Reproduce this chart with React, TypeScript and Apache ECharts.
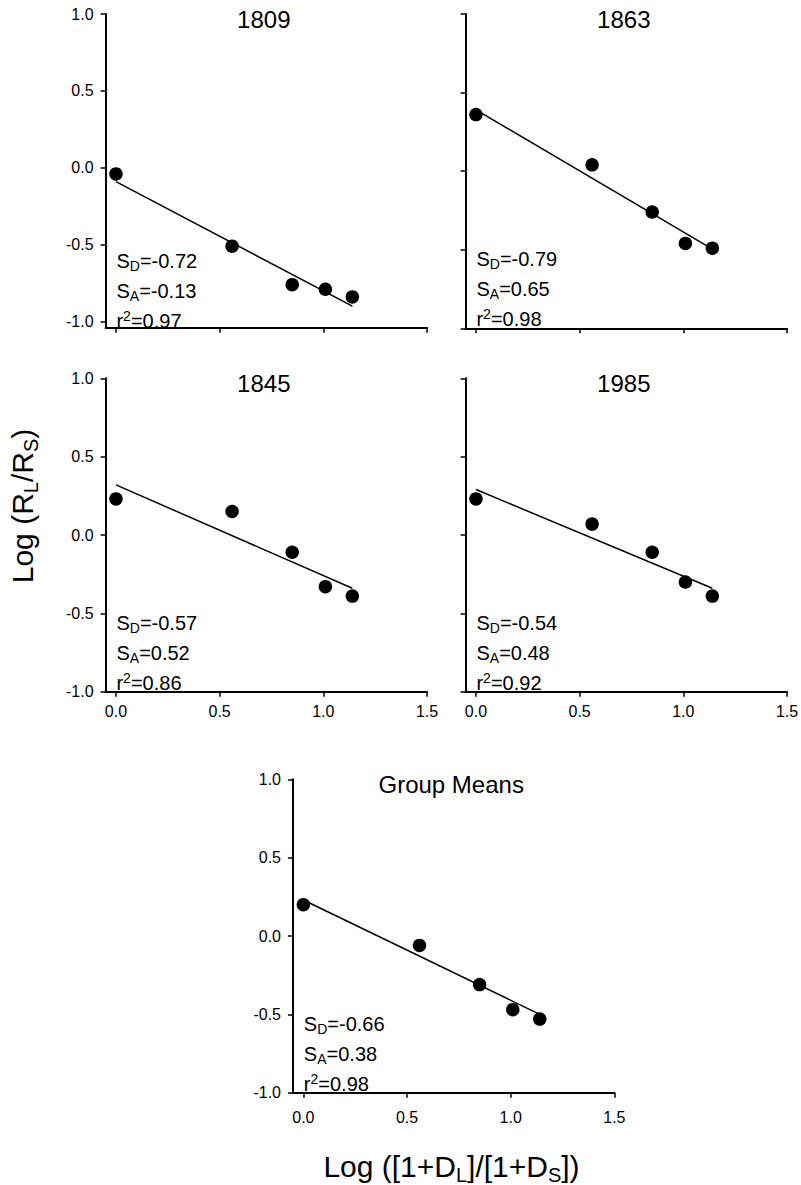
import React, { useEffect, useRef } from 'react';
import * as echarts from 'echarts';

// ---- data ----
const xValues = [0, 0.56, 0.85, 1.01, 1.14];
const y1809 = [-0.04, -0.51, -0.76, -0.79, -0.84];
const y1863 = [0.36, 0.04, -0.26, -0.46, -0.49];
const y1845 = [0.23, 0.15, -0.11, -0.33, -0.39];
const y1985 = [0.23, 0.07, -0.11, -0.3, -0.39];
const yMeans = [0.2, -0.06, -0.31, -0.47, -0.53];

const fit1809 = [[0, -0.09], [1.14, -0.9]];
const fit1863 = [[0, 0.39], [1.12, -0.48]];
const fit1845 = [[0, 0.32], [1.14, -0.34]];
const fit1985 = [[0, 0.29], [1.14, -0.34]];
const fitMeans = [[0, 0.23], [1.14, -0.5]];

const panelTitles = ['1809', '1863', '1845', '1985', 'Group Means'];
const slopeD = ['-0.72', '-0.79', '-0.57', '-0.54', '-0.66'];
const slopeA = ['-0.13', '0.65', '0.52', '0.48', '0.38'];
const rSquared = ['0.97', '0.98', '0.86', '0.92', '0.98'];

const xTicks = [0, 0.5, 1.0, 1.5];
const yTicks = [-1, -0.5, 0, 0.5, 1];

const seriesY = [y1809, y1863, y1845, y1985, yMeans];
const seriesFit = [fit1809, fit1863, fit1845, fit1985, fitMeans];

// ---- layout ----
const FONT = 'Liberation Sans, Arial, Helvetica, sans-serif';
const X_MIN = -0.05;
const X_MAX = 1.5;
const GRID_W = 321.4;
const panels = [
  { left: 105.6, top: 14, height: 313.7, yMin: -1.04, showX: false, showY: true, xMargin: 12, annoOff: 2 },
  { left: 465.6, top: 14, height: 314.3, yMin: -1, showX: false, showY: false, xMargin: 12, annoOff: 0 },
  { left: 105.6, top: 378.3, height: 313.4, yMin: -1, showX: true, showY: true, xMargin: 12, annoOff: 0 },
  { left: 465.6, top: 378.3, height: 313.4, yMin: -1, showX: true, showY: false, xMargin: 12, annoOff: 0 },
  { left: 293, top: 779.3, height: 313.4, yMin: -1, showX: true, showY: true, xMargin: 17, annoOff: 0 },
];

const annoRich = {
  m: { fontSize: 20, lineHeight: 24, fontFamily: FONT, fill: '#000' },
  d: { fontSize: 14, lineHeight: 16, verticalAlign: 'bottom', fontFamily: FONT, fill: '#000' },
  u: { fontSize: 14, lineHeight: 20, verticalAlign: 'top', fontFamily: FONT, fill: '#000' },
};

const titleRich = {
  m: { fontSize: 30, lineHeight: 36, fontFamily: FONT, fill: '#000' },
  d: { fontSize: 20, lineHeight: 20, verticalAlign: 'bottom', fontFamily: FONT, fill: '#000' },
};

export default function App() {
  const ref = useRef<HTMLDivElement>(null);

  useEffect(() => {
    if (!ref.current) return;
    const chart = echarts.init(ref.current, undefined, { renderer: 'svg' });

    const grids: any[] = [];
    const xAxes: any[] = [];
    const yAxes: any[] = [];
    const series: any[] = [];
    const graphics: any[] = [];

    panels.forEach((p, i) => {
      grids.push({
        left: p.left,
        top: p.top,
        width: GRID_W,
        height: p.height,
        containLabel: false,
        outerBoundsMode: 'none',
      });
      xAxes.push({
        type: 'value',
        gridIndex: i,
        min: X_MIN,
        max: X_MAX,
        axisLine: { show: true, onZero: false, lineStyle: { color: '#000', width: 2 } },
        axisTick: { show: true, length: 5, customValues: xTicks, lineStyle: { color: '#000', width: 1.5 } },
        axisLabel: {
          show: p.showX,
          customValues: xTicks,
          formatter: (v: number) => v.toFixed(1),
          fontSize: 16,
          fontFamily: FONT,
          color: '#000',
          margin: p.xMargin,
        },
        splitLine: { show: false },
      });
      yAxes.push({
        type: 'value',
        gridIndex: i,
        min: p.yMin,
        max: 1,
        axisLine: { show: true, onZero: false, lineStyle: { color: '#000', width: 2 } },
        axisTick: { show: true, length: 5, customValues: yTicks, lineStyle: { color: '#000', width: 1.5 } },
        axisLabel: {
          show: p.showY,
          customValues: yTicks,
          formatter: (v: number) => v.toFixed(1),
          fontSize: 16,
          fontFamily: FONT,
          color: '#000',
          margin: 12,
        },
        splitLine: { show: false },
      });
      series.push({
        type: 'line',
        xAxisIndex: i,
        yAxisIndex: i,
        data: seriesFit[i],
        showSymbol: false,
        symbol: 'none',
        lineStyle: { color: '#000', width: 1.5 },
        z: 2,
      });
      series.push({
        type: 'scatter',
        xAxisIndex: i,
        yAxisIndex: i,
        data: xValues.map((x, j) => [x, seriesY[i][j]]),
        symbol: 'circle',
        symbolSize: 13.5,
        itemStyle: { color: '#000', opacity: 1 },
        z: 3,
      });

      const cx = p.left + GRID_W / 2 - 2.5;
      graphics.push({
        type: 'text',
        x: cx,
        y: p.top + 5,
        style: {
          text: panelTitles[i],
          fontSize: 24,
          fontFamily: FONT,
          fill: '#000',
          align: 'center',
          verticalAlign: 'middle',
        },
      });

      const x0 = p.left + ((0 - X_MIN) / (X_MAX - X_MIN)) * GRID_W + 0.5;
      const baselines = [252, 281.5, 311.5].map((b) => p.top + b + p.annoOff);
      const lines = [
        `{m|S}{d|D}{m|=${slopeD[i]}}`,
        `{m|S}{d|A}{m|=${slopeA[i]}}`,
        `{m|r}{u|2}{m|=${rSquared[i]}}`,
      ];
      lines.forEach((t, k) => {
        graphics.push({
          type: 'text',
          x: x0,
          y: baselines[k] - 6.9,
          style: {
            text: t,
            rich: annoRich,
            align: 'left',
            verticalAlign: 'middle',
          },
          z: 10,
        });
      });
    });

    // y-axis title
    graphics.push({
      type: 'text',
      x: 22.6,
      y: 506,
      rotation: Math.PI / 2,
      style: {
        text: '{m|Log (R}{d|L}{m|/R}{d|S}{m|)}',
        rich: titleRich,
        align: 'center',
        verticalAlign: 'middle',
      },
    });
    // x-axis title
    graphics.push({
      type: 'text',
      x: 451.5,
      y: 1166.6,
      style: {
        text: '{m|Log ([1+D}{d|L}{m|]/[1+D}{d|S}{m|])}',
        rich: titleRich,
        align: 'center',
        verticalAlign: 'middle',
      },
    });

    chart.setOption({
      animation: false,
      backgroundColor: '#fff',
      grid: grids,
      xAxis: xAxes,
      yAxis: yAxes,
      series,
      graphic: { elements: graphics },
    });

    return () => chart.dispose();
  }, []);

  return (
    <div
      ref={ref}
      style={{ position: 'absolute', left: 0, top: 0, width: '801px', height: '1185px' }}
    />
  );
}
